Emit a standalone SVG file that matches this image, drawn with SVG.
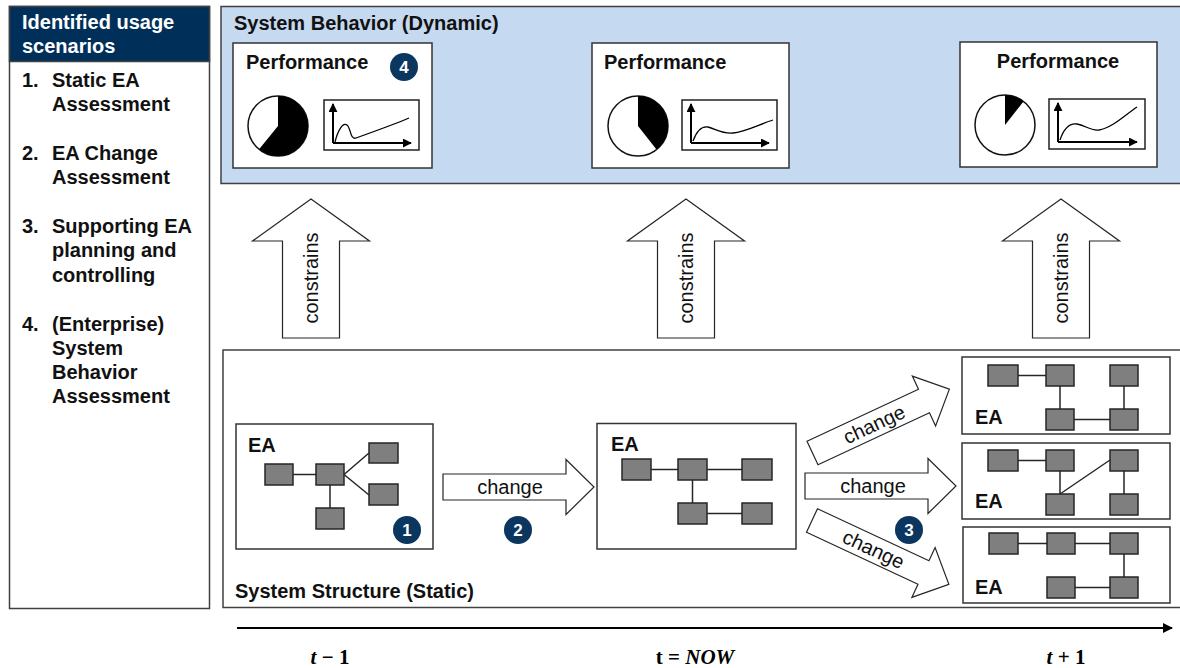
<svg xmlns="http://www.w3.org/2000/svg" xmlns:xlink="http://www.w3.org/1999/xlink" width="1180" height="668" viewBox="0 0 1180 668">
  <style>
    .hdr { font-family: "Liberation Sans", Arial, sans-serif; font-weight: bold; font-size: 20px; fill: #111; }
    .lbl { font-family: "Liberation Sans", Arial, sans-serif; font-size: 20px; fill: #111; }
    .panel { stroke: #404040; stroke-width: 1.5; }
    .box { fill: #fff; stroke: #333; stroke-width: 1.5; }
    .sq { fill: #7f7f7f; stroke: #262626; stroke-width: 1.5; }
    .ln { stroke: #262626; stroke-width: 1.5; fill: none; }
    .fat { fill: #fff; stroke: #262626; stroke-width: 1.2; }
    .badge circle { fill: #0b365f; }
    .badge text { font-family: "Liberation Sans", Arial, sans-serif; font-weight: bold; font-size: 17px; fill: #fff; text-anchor: middle; }
    .pie-bg { fill: #fff; stroke: #111; stroke-width: 1.5; }
    .pie-fg { fill: #000; }
    .chart { fill: #fff; stroke: #222; stroke-width: 1.5; }
    .axis { stroke: #000; stroke-width: 2; fill: none; }
    .curve { stroke: #000; stroke-width: 1.3; fill: none; }
    .math { font-family: "Liberation Serif", "Times New Roman", serif; font-weight: bold; font-size: 21px; fill: #000; text-anchor: middle; }
  </style>
  <defs>
    <path id="fat-arrow" d="M0,-13 H123 V-27.5 L151,0 L123,27.5 V13 H0 Z"/>
    <marker id="axis-head" viewBox="0 0 10 10" refX="9" refY="5" markerWidth="4.5" markerHeight="4.5" orient="auto">
      <path d="M0,0 L10,5 L0,10 Z" fill="#000"/>
    </marker>
    <marker id="time-head" viewBox="0 0 10 10" refX="9" refY="5" markerWidth="5" markerHeight="5" orient="auto">
      <path d="M0,0 L10,5 L0,10 Z" fill="#000"/>
    </marker>
  </defs>

  <rect width="1180" height="668" fill="#fff"/>

  <!-- usage scenario list -->
  <g id="scenarios">
    <rect x="9.5" y="6.5" width="200" height="602" fill="#fff" class="panel"/>
    <rect x="9.5" y="6.5" width="200" height="55" fill="#00305a" class="panel"/>
    <text x="22" y="29" class="hdr" style="fill:#fff">Identified usage</text>
    <text x="22" y="53" class="hdr" style="fill:#fff">scenarios</text>
    <text class="hdr">
      <tspan x="22" y="87">1.</tspan><tspan x="52" y="87">Static EA</tspan>
      <tspan x="52" y="111">Assessment</tspan>
      <tspan x="22" y="160">2.</tspan><tspan x="52" y="160">EA Change</tspan>
      <tspan x="52" y="184">Assessment</tspan>
      <tspan x="22" y="233">3.</tspan><tspan x="52" y="233">Supporting EA</tspan>
      <tspan x="52" y="257">planning and</tspan>
      <tspan x="52" y="282">controlling</tspan>
      <tspan x="22" y="331">4.</tspan><tspan x="52" y="331">(Enterprise)</tspan>
      <tspan x="52" y="355">System</tspan>
      <tspan x="52" y="379">Behavior</tspan>
      <tspan x="52" y="403">Assessment</tspan>
    </text>
  </g>

  <!-- dynamic layer -->
  <g id="behavior-panel">
    <rect x="221" y="6.5" width="960" height="177" fill="#c5d9f0" class="panel"/>
    <text x="234" y="30" class="hdr">System Behavior (Dynamic)</text>
  </g>

  <g id="perf-prev">
    <rect x="233" y="43" width="199" height="125" class="box"/>
    <text x="246" y="69" class="hdr">Performance</text>
    <circle cx="278" cy="126" r="30" class="pie-bg"/>
    <path d="M278,126 L278,96 A30,30 0 1 1 259.1,149.3 Z" class="pie-fg"/>
    <rect x="324" y="100" width="95" height="50" class="chart"/>
    <path d="M333,143 V104" class="axis" marker-end="url(#axis-head)"/>
    <path d="M333,143 H411" class="axis" marker-end="url(#axis-head)"/>
    <path d="M335,142 C338,130 343,122 347,125 C351,128 350,140 356,138 C370,133 395,124 409,118" class="curve"/>
  </g>
  <g id="badge-4" class="badge">
    <circle cx="404" cy="67" r="14"/>
    <text x="404" y="73">4</text>
  </g>

  <g id="perf-now">
    <rect x="592" y="43" width="197" height="125" class="box"/>
    <text x="604" y="69" class="hdr">Performance</text>
    <circle cx="638" cy="126" r="30" class="pie-bg"/>
    <path d="M638,126 L638,96 A30,30 0 0 1 656.5,149.6 Z" class="pie-fg"/>
    <rect x="682" y="100" width="95" height="50" class="chart"/>
    <path d="M691,143 V104" class="axis" marker-end="url(#axis-head)"/>
    <path d="M691,143 H769" class="axis" marker-end="url(#axis-head)"/>
    <path d="M693,141 C697,130 702,126 708,127 C716,129 722,134 733,133 C745,132 760,124 773,120" class="curve"/>
  </g>

  <g id="perf-next">
    <rect x="960" y="42" width="197" height="125" class="box"/>
    <text x="1058" y="68" class="hdr" text-anchor="middle">Performance</text>
    <circle cx="1005" cy="125" r="30" class="pie-bg"/>
    <path d="M1005,125 L1005,95 A30,30 0 0 1 1023.5,101.4 Z" class="pie-fg"/>
    <rect x="1049" y="99" width="96" height="50" class="chart"/>
    <path d="M1058,142 V103" class="axis" marker-end="url(#axis-head)"/>
    <path d="M1058,142 H1137" class="axis" marker-end="url(#axis-head)"/>
    <path d="M1060,140 C1064,128 1070,123 1077,124 C1085,125 1090,131 1099,130 C1112,128 1125,115 1137,107" class="curve"/>
  </g>

  <!-- static layer -->
  <g id="structure-panel">
    <rect x="223" y="350" width="960" height="257.5" fill="#fff" class="panel"/>
    <text x="235" y="598" class="hdr">System Structure (Static)</text>
  </g>

  <g id="ea-prev">
    <rect x="236" y="424" width="197" height="125" class="box"/>
    <text x="248" y="452" class="hdr">EA</text>
    <path d="M293,474.5 H316 M344,474.5 L369,453 M344,474.5 L369,495 M330,485 V508" class="ln"/>
    <rect x="265" y="464" width="28" height="21" class="sq"/>
    <rect x="316" y="464" width="28" height="21" class="sq"/>
    <rect x="369" y="443" width="29" height="20" class="sq"/>
    <rect x="369" y="484" width="29" height="21" class="sq"/>
    <rect x="316" y="508" width="28" height="21" class="sq"/>
  </g>
  <g id="badge-1" class="badge">
    <circle cx="407" cy="530" r="14"/>
    <text x="407" y="536">1</text>
  </g>

  <g id="ea-now">
    <rect x="597" y="423.5" width="199" height="125.5" class="box"/>
    <text x="611" y="451" class="hdr">EA</text>
    <path d="M651,469.5 H678 M707,469.5 H742 M692.5,480 V503 M707,513.5 H742" class="ln"/>
    <rect x="622" y="459" width="29" height="21" class="sq"/>
    <rect x="678" y="459" width="29" height="21" class="sq"/>
    <rect x="742" y="459" width="30" height="21" class="sq"/>
    <rect x="678" y="503" width="29" height="21" class="sq"/>
    <rect x="742" y="503" width="30" height="21" class="sq"/>
  </g>

  <g id="ea-next-a">
    <rect x="962" y="357" width="208" height="77" class="box"/>
    <text x="975" y="424" class="hdr">EA</text>
    <path d="M1018,375.5 H1046 M1060,386 V409 M1074,419.5 H1110 M1124,386 V409" class="ln"/>
    <rect x="988" y="365" width="30" height="21" class="sq"/>
    <rect x="1046" y="365" width="28" height="21" class="sq"/>
    <rect x="1110" y="365" width="28" height="21" class="sq"/>
    <rect x="1046" y="409" width="28" height="21" class="sq"/>
    <rect x="1110" y="409" width="28" height="21" class="sq"/>
  </g>

  <g id="ea-next-b">
    <rect x="962" y="443" width="208" height="76" class="box"/>
    <text x="975" y="508" class="hdr">EA</text>
    <path d="M1018,460.5 H1046 M1060,471 V494 M1060,494 L1110,460 M1124,471 V494" class="ln"/>
    <rect x="988" y="450" width="30" height="21" class="sq"/>
    <rect x="1046" y="450" width="28" height="21" class="sq"/>
    <rect x="1110" y="450" width="28" height="21" class="sq"/>
    <rect x="1046" y="494" width="28" height="21" class="sq"/>
    <rect x="1110" y="494" width="28" height="21" class="sq"/>
  </g>

  <g id="ea-next-c">
    <rect x="963" y="527" width="207" height="76" class="box"/>
    <text x="975" y="594" class="hdr">EA</text>
    <path d="M1018,543.5 H1047 M1075,543.5 H1110 M1124,554 V577 M1075,587.5 H1110" class="ln"/>
    <rect x="989" y="533" width="29" height="21" class="sq"/>
    <rect x="1047" y="533" width="28" height="21" class="sq"/>
    <rect x="1110" y="533" width="28" height="21" class="sq"/>
    <rect x="1047" y="577" width="28" height="21" class="sq"/>
    <rect x="1110" y="577" width="28" height="21" class="sq"/>
  </g>

  <g id="badge-2" class="badge">
    <circle cx="518" cy="530" r="14"/>
    <text x="518" y="536">2</text>
  </g>

  <!-- connectors: constraint arrows and change arrows -->
  <g id="connectors">
    <g id="constrains-prev">
      <path d="M311,199 L369.5,241 H339.5 V338 H282.5 V241 H252.5 Z" class="fat"/>
      <text transform="translate(318,278) rotate(-90)" class="lbl" text-anchor="middle">constrains</text>
    </g>
    <g id="constrains-now">
      <path d="M686,199 L744.5,241 H714.5 V338 H657.5 V241 H627.5 Z" class="fat"/>
      <text transform="translate(693,278) rotate(-90)" class="lbl" text-anchor="middle">constrains</text>
    </g>
    <g id="constrains-next">
      <path d="M1061,199 L1119.5,241 H1089.5 V338 H1032.5 V241 H1002.5 Z" class="fat"/>
      <text transform="translate(1068,278) rotate(-90)" class="lbl" text-anchor="middle">constrains</text>
    </g>

    <g id="change-prev-now" transform="translate(443,487)">
      <use xlink:href="#fat-arrow" href="#fat-arrow" class="fat"/>
      <text x="67" y="7" class="lbl" text-anchor="middle">change</text>
    </g>
    <g id="change-now-a" transform="translate(812.5,453) rotate(-25)">
      <use xlink:href="#fat-arrow" href="#fat-arrow" class="fat"/>
      <text x="68" y="7" class="lbl" text-anchor="middle">change</text>
    </g>
    <g id="change-now-b" transform="translate(805,486)">
      <use xlink:href="#fat-arrow" href="#fat-arrow" class="fat"/>
      <text x="68" y="7" class="lbl" text-anchor="middle">change</text>
    </g>
    <g id="change-now-c" transform="translate(812,520.5) rotate(25)">
      <use xlink:href="#fat-arrow" href="#fat-arrow" class="fat"/>
      <text x="68" y="7" class="lbl" text-anchor="middle">change</text>
    </g>
  </g>

  <g id="badge-3" class="badge">
    <circle cx="909" cy="530" r="14"/>
    <text x="909" y="536">3</text>
  </g>

  <!-- time axis -->
  <g id="timeline">
    <line x1="237" y1="628" x2="1172" y2="628" stroke="#000" stroke-width="2" marker-end="url(#time-head)"/>
    <text x="330" y="664" class="math"><tspan font-style="italic">t</tspan> − 1</text>
    <text x="695" y="664" class="math">t = <tspan font-style="italic">NOW</tspan></text>
    <text x="1066" y="664" class="math"><tspan font-style="italic">t</tspan> + 1</text>
  </g>
</svg>
